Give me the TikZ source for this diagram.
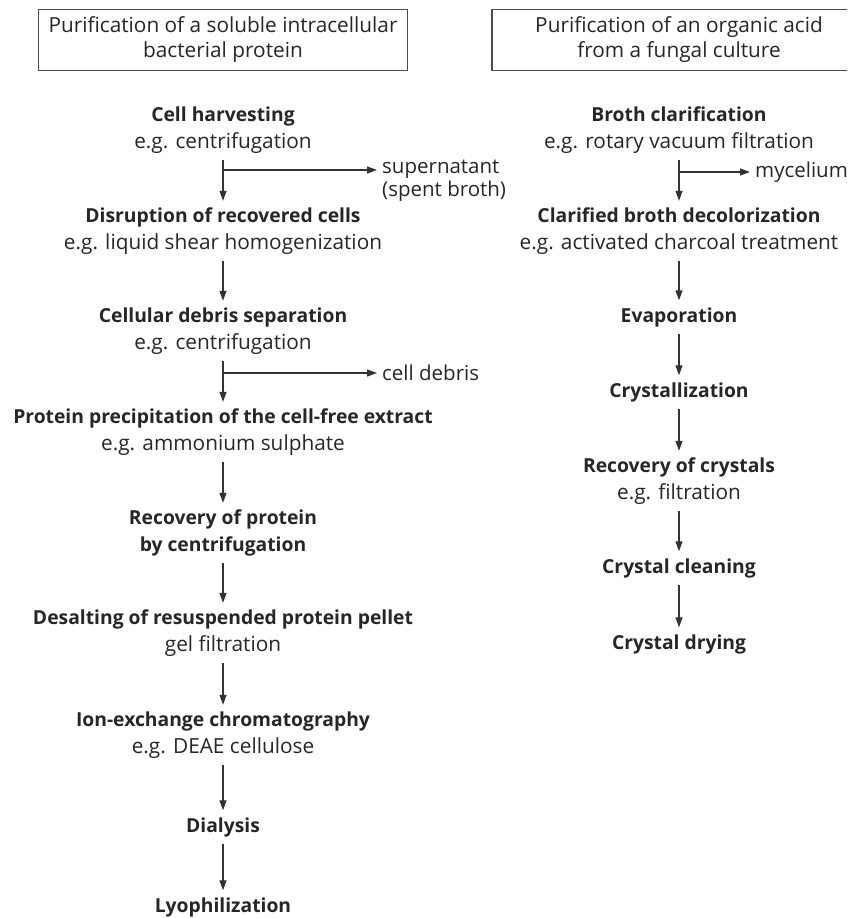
\documentclass[tikz,border=0pt]{standalone}
\usepackage{fontspec}
\setmainfont{Open Sans}
\usetikzlibrary{
  positioning,
  arrows.meta,
  calc
}
\newcommand{\fsz}[1]{\fontsize{#1}{27}\selectfont}
\tikzset{
  title/.style={
    draw=black!70,
    line width=1.3pt,
    minimum height=61pt,
    align=center,
    inner sep=2pt,
    font=\fontsize{20.8}{25}\selectfont,
    text=black!85,
  },
  stage/.style={
    align=center,
    inner sep=3pt,
    font=\fsz{20.8},
    text=black!85,
  },
  waste/.style={
    align=left,
    anchor=west,
    inner sep=5pt,
    font=\fontsize{20.5}{23}\selectfont,
    text=black!85,
  },
  edge/.style={
    -{Triangle[length=10pt,width=7pt]},
    line width=1.2pt,
    draw=black!80,
  },
  split/.style={
    edge,
  },
}
\newcommand{\bsz}[1]{{\bfseries\fontsize{19.3}{27}\selectfont #1}}
\newcommand{\proc}[2]{\bsz{#1}\strut\\#2\strut}
\newcommand{\solo}[1]{\bsz{#1}\strut}

\begin{document}
\begin{tikzpicture}[x=1pt,y=-1pt]
		\useasboundingbox (0,0) rectangle (847,918);
		\clip (0,0) rectangle (847,918);
		\def\colA{223}
		\def\colB{679}

		% titles
		\node[title,minimum width=369pt] (hdrA) at (\colA,40) {Purification of a soluble intracellular\\bacterial protein};
		\node[title,minimum width=374pt] (hdrB) at (\colB,40) {Purification of an organic acid\\from a fungal culture};

		% protein purification
		\node[stage] (harv) at (\colA,130) {\proc{Cell harvesting}{e.g. centrifugation}};
		\node[stage] (disr) at (\colA,231) {\proc{Disruption of recovered cells}{e.g. liquid shear homogenization}};
		\node[stage] (debr) at (\colA,331) {\proc{Cellular debris separation}{e.g. centrifugation}};
		\node[stage] (prec) at (\colA,432) {\proc{Protein precipitation of the cell-free extract}{e.g. ammonium sulphate}};
		\node[stage] (reco) at (\colA,533) {\proc{Recovery of protein}{\bsz{by centrifugation}}};
		\node[stage] (desl) at (\colA,633) {\proc{Desalting of resuspended protein pellet}{gel filtration}};
		\node[stage] (ionx) at (\colA,735) {\proc{Ion-exchange chromatography}{e.g. DEAE cellulose}};
		\node[stage] (dial) at (\colA,827) {\solo{Dialysis}};
		\node[stage] (lyop) at (\colA,907) {\solo{Lyophilization}};

		\node[waste] (spent) at (377,181) {supernatant\\(spent broth)};
		\node[waste] (cdeb) at (377,373) {cell debris};
		\coordinate (s1) at (\colA,170);
		\coordinate (s2) at (\colA,373);

		% acid purification
		\node[stage] (clar) at (\colB,130) {\proc{Broth clarification}{e.g. rotary vacuum filtration}};
		\node[stage] (deco) at (\colB,231) {\proc{Clarified broth decolorization}{e.g. activated charcoal treatment}};
		\node[stage] (evap) at (\colB,317) {\solo{Evaporation}};
		\node[stage] (crys) at (\colB,392) {\solo{Crystallization}};
		\node[stage] (rcry) at (\colB,481) {\proc{Recovery of crystals}{e.g. filtration}};
		\node[stage] (clea) at (\colB,568) {\solo{Crystal cleaning}};
		\node[stage] (dryi) at (\colB,644) {\solo{Crystal drying}};

		\node[waste] (myce) at (750,172) {mycelium};
		\coordinate (s3) at (\colB,172);

		% edges
		\foreach \a/\b in {harv/disr, disr/debr, debr/prec, prec/reco, reco/desl, desl/ionx, ionx/dial, dial/lyop,
		                   clar/deco, deco/evap, evap/crys, crys/rcry, rcry/clea, clea/dryi}
			\draw[edge] (\a.south) -- (\b.north);

		\draw[split] (s1) -- (s1 -| spent.west);
		\draw[split] (s2) -- (cdeb.west);
		\draw[split] (s3) -- (myce.west);
	\end{tikzpicture}
\end{document}
